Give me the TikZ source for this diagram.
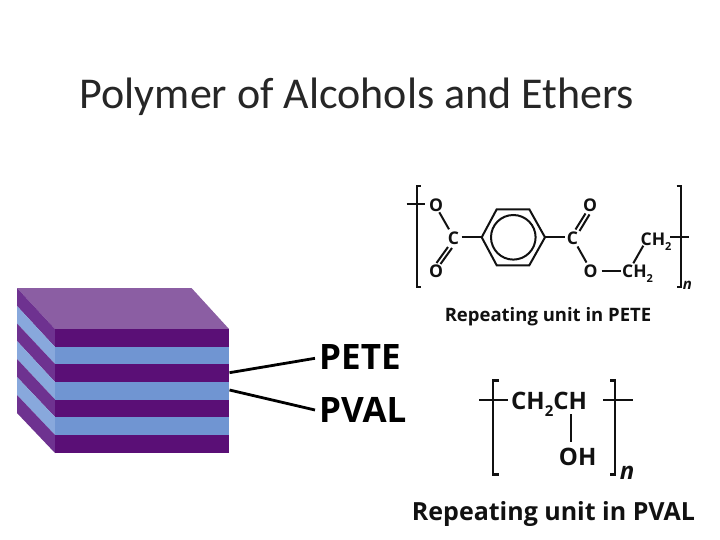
\documentclass[tikz,border=0pt]{standalone}
\usepackage{fontspec}
\usetikzlibrary{calc}
\setmainfont{Carlito}
\newfontfamily\labelfont{Open Sans}[BoldFont={Open Sans Bold}]
\definecolor{dkp}{HTML}{5A0F76}
\definecolor{frontblue}{HTML}{7095D2}
\definecolor{topp}{HTML}{8B5EA3}
\definecolor{sidep}{HTML}{6E3290}
\definecolor{sideblue}{HTML}{88A8DC}
\definecolor{inkc}{HTML}{111111}
\tikzset{
  titletext/.style={font=\fontsize{44}{48}\selectfont,text=black!85,inner sep=0pt},
  atom/.style={font=\labelfont\bfseries\fontsize{17.5}{19}\selectfont,text=inkc,inner sep=1.5pt},
  atomb/.style={font=\labelfont\bfseries\fontsize{24}{26}\selectfont,text=inkc,inner sep=0pt},
  captext/.style={font=\labelfont\bfseries\fontsize{18.5}{20}\selectfont,text=inkc,inner sep=0pt},
  captextb/.style={font=\labelfont\bfseries\fontsize{25}{27}\selectfont,text=inkc,inner sep=0pt},
  bigtext/.style={font=\labelfont\bfseries\fontsize{35}{37}\selectfont,text=black,inner sep=0pt},
  bond/.style={draw=inkc,line width=2pt},
  bondb/.style={draw=inkc,line width=2.4pt},
  leader/.style={draw=black,line width=2.8pt},
  facep/.style={fill=dkp},
  faceb/.style={fill=frontblue},
  sidepf/.style={fill=sidep},
  sidebf/.style={fill=sideblue},
}
\begin{document}
\begin{tikzpicture}[x=1pt,y=-1pt]
\useasboundingbox[fill=white] (0,0) rectangle (720,540);
\node[titletext,anchor=center] (ttl) at (357,97) {Polymer of Alcohols and Ethers};

% block: top face
\fill[topp] (17,288) -- (191.5,288) -- (229,329) -- (55,329) -- cycle;
% left face
\fill[sidepf] (17,288) -- (55,329) -- (55,347) -- (17,306) -- cycle;
\fill[sidebf] (17,306) -- (55,347) -- (55,364) -- (17,323.5) -- cycle;
\fill[sidepf] (17,323.5) -- (55,364) -- (55,382) -- (17,341) -- cycle;
\fill[sidebf] (17,341) -- (55,382) -- (55,399.5) -- (17,359) -- cycle;
\fill[sidepf] (17,359) -- (55,399.5) -- (55,417) -- (17,377) -- cycle;
\fill[sidebf] (17,377) -- (55,417) -- (55,435) -- (17,395) -- cycle;
\fill[sidepf] (17,395) -- (55,435) -- (55,453) -- (17,413) -- cycle;
% front face
\fill[facep] (55,329) rectangle (229,347);
\fill[faceb] (55,347) rectangle (229,364);
\fill[facep] (55,364) rectangle (229,382);
\fill[faceb] (55,382) rectangle (229,399.5);
\fill[facep] (55,399.5) rectangle (229,417);
\fill[faceb] (55,417) rectangle (229,435);
\fill[facep] (55,435) rectangle (229,453);
\coordinate (peteend) at (229.5,372.7);
\coordinate (pvalend) at (229.5,390);

% labels
\node[bigtext,anchor=base west] (pete) at (319,369) {PETE};
\node[bigtext,anchor=base west] (pval) at (319,422) {PVAL};
\coordinate (petein) at (315,358.3);
\coordinate (pvalin) at (315,410);
\draw[leader] (peteend) -- (petein);
\draw[leader] (pvalend) -- (pvalin);

% PETE unit: brackets
\coordinate (ltA) at (420.7,186);
\coordinate (ltB) at (416.7,186);
\coordinate (ltC) at (416.7,286.7);
\coordinate (ltD) at (420.7,286.7);
\draw[bond,line join=miter] (ltA) -- (ltB) -- (ltC) -- (ltD);
\coordinate (rtA) at (676.7,186);
\coordinate (rtB) at (680.7,186);
\coordinate (rtC) at (680.7,286.7);
\coordinate (rtD) at (676.7,286.7);
\draw[bond,line join=miter] (rtA) -- (rtB) -- (rtC) -- (rtD);

\node[atom] (o1) at (436,205.5) {O};
\node[atom] (c1) at (453.5,238.5) {C};
\node[atom] (o2) at (436,271.5) {O};
\node[atom] (c2) at (572.5,238.5) {C};
\node[atom] (o3) at (590,205.5) {O};
\node[atom] (o4) at (590.5,271.5) {O};
\node[atom,anchor=base west,inner sep=0pt] (ch2a) at (622,277.5) {CH\raisebox{-5pt}{\fontsize{11}{11}\selectfont 2}};
\node[atom,anchor=base west,inner sep=0pt] (ch2b) at (640.5,245) {CH\raisebox{-5pt}{\fontsize{11}{11}\selectfont 2}};
\node[font=\labelfont\bfseries\itshape\fontsize{15}{16}\selectfont,text=inkc,inner sep=0pt] (n1) at (687.5,285.5) {n};

\coordinate (tickL) at (406.7,204.3);
\coordinate (tickLb) at (425,204.3);
\coordinate (tickR) at (670,237.3);
\coordinate (tickRb) at (689.3,237.3);
\draw[bond] (tickL) -- (tickLb);
\draw[bond] (tickR) -- (tickRb);
\coordinate (oab) at (439.3,212.3);
\coordinate (cab) at (449,229.3);
\draw[bond] (oab) -- (cab);
% double bonds C=O
\draw[bond] ($(c1)+(-5.5,8.5)$) -- ($(o2)+(0.5,-8.5)$);
\draw[bond] ($(c1)+(-1.5,9.5)$) -- ($(o2)+(4.5,-7.5)$);
\draw[bond] ($(c2)+(3,-9)$) -- ($(o3)+(-4.5,8)$);
\draw[bond] ($(c2)+(7,-7.5)$) -- ($(o3)+(-0.5,9)$);
\draw[bond] ($(c2)+(5,8)$) -- ($(o4)+(-4,-9)$);
\coordinate (o4r) at (601.7,271);
\coordinate (ch2al) at (620.7,271);
\draw[bond] (o4r) -- (ch2al);
\coordinate (ch2ur) at (633.3,263.3);
\coordinate (ch2ul) at (643.3,245.7);
\draw[bond] (ch2ur) -- (ch2ul);

% ring
\coordinate (r1) at (481.7,237.3);
\coordinate (r2) at (496.7,209.3);
\coordinate (r3) at (529.3,209.3);
\coordinate (r4) at (545,237.3);
\coordinate (r5) at (529.3,265.3);
\coordinate (r6) at (496.7,265.3);
\coordinate (rc) at (513.3,237.3);
\draw[bond,line join=miter] (r1) -- (r2) -- (r3) -- (r4) -- (r5) -- (r6) -- cycle;
\draw[bond] (rc) circle[radius=22.3];
\coordinate (c1r) at (461.7,237.3);
\coordinate (c2l) at (565,237.3);
\draw[bond] (c1r) -- (r1);
\draw[bond] (r4) -- (c2l);

\node[captext,anchor=center] (cap1) at (548,317) {Repeating unit in PETE};

% PVAL unit
\coordinate (lpA) at (499,380.3);
\coordinate (lpB) at (492.7,380.3);
\coordinate (lpC) at (492.7,474.3);
\coordinate (lpD) at (499,474.3);
\draw[bondb,line join=miter] (lpA) -- (lpB) -- (lpC) -- (lpD);
\coordinate (rpA) at (610,380.3);
\coordinate (rpB) at (615,380.3);
\coordinate (rpC) at (615,474.3);
\coordinate (rpD) at (610,474.3);
\draw[bondb,line join=miter] (rpA) -- (rpB) -- (rpC) -- (rpD);
\coordinate (tpL) at (479,400);
\coordinate (tpLb) at (508.3,400);
\coordinate (tpR) at (603.3,400);
\coordinate (tpRb) at (632.7,400);
\draw[bondb] (tpL) -- (tpLb);
\draw[bondb] (tpR) -- (tpRb);
\node[atomb,anchor=base west] (ch2p) at (511,409.3) {CH\raisebox{-7pt}{\fontsize{15}{15}\selectfont 2}CH};
\node[atomb,anchor=base] (oh) at (577.7,465.5) {OH};
\coordinate (chb) at (570.7,414);
\coordinate (ohb) at (570.7,442.3);
\draw[bondb] (chb) -- (ohb);
\node[font=\labelfont\bfseries\itshape\fontsize{24}{25}\selectfont,text=inkc,inner sep=0pt] (n2) at (627,473) {n};
\node[captextb,anchor=center] (cap2) at (553.5,514) {Repeating unit in PVAL};
\end{tikzpicture}
\end{document}
